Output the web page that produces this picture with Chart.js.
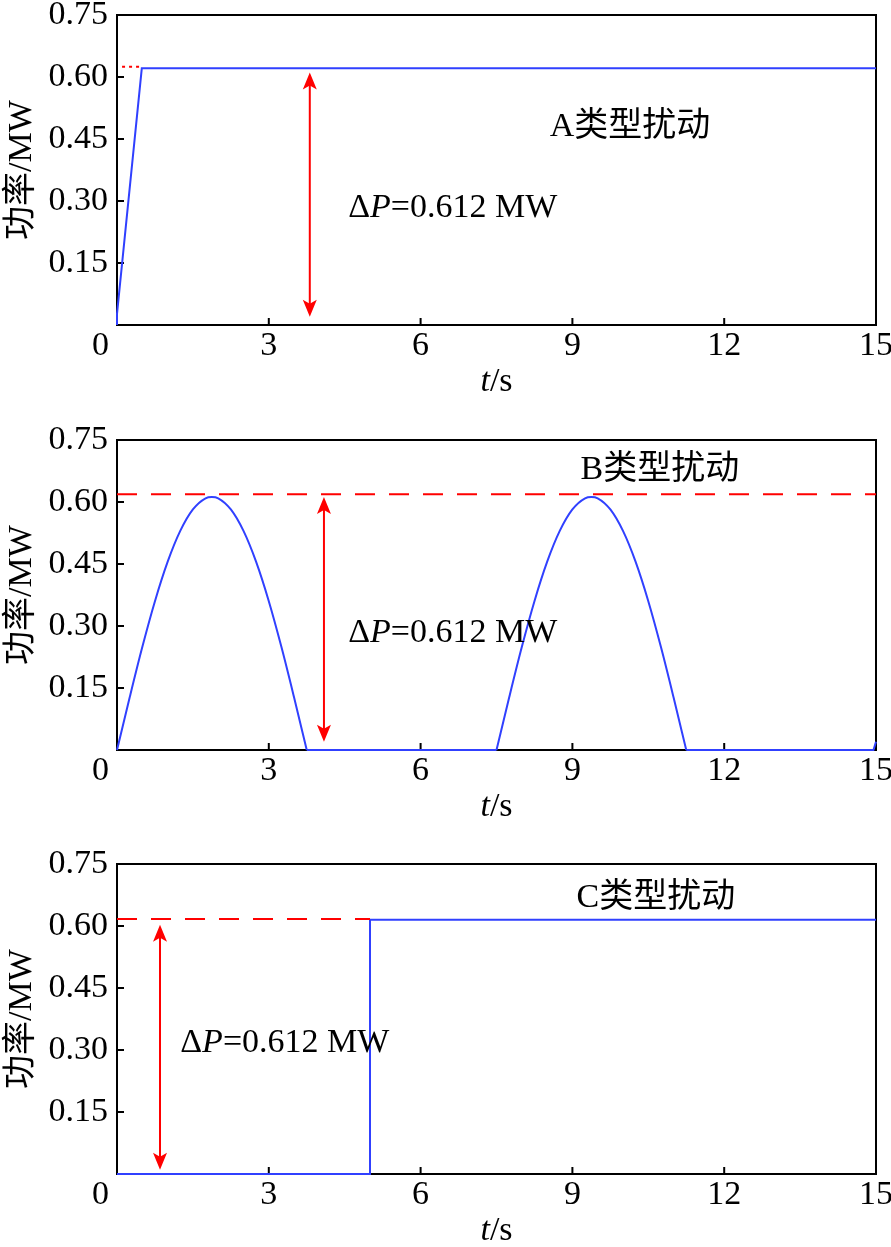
<!DOCTYPE html>
<html>
<head>
<meta charset="utf-8">
<script src="https://cdn.jsdelivr.net/npm/chart.js@4.4.1/dist/chart.umd.min.js"></script>
<style>
  body { margin: 0; background: #fff; }
  .panel { position: absolute; left: 0; width: 891px; height: 398px; }
</style>
</head>
<body>
<div class="panel" style="top:0"><canvas id="chartA" width="891" height="398"></canvas></div>
<div class="panel" style="top:425px"><canvas id="chartB" width="891" height="398"></canvas></div>
<div class="panel" style="top:849px"><canvas id="chartC" width="891" height="398"></canvas></div>
<script>
// 坐标轴刻度
const xTicks = [0, 3, 6, 9, 12, 15];
const yTicks = [0, 0.15, 0.30, 0.45, 0.60, 0.75];

// A类型扰动：斜坡上升后保持
const timeA = [0, 0, 0.49, 15];
const powerA = [0, 0.027, 0.621, 0.621];
const refTimeA = [0.1, 0.49];
const refPowerA = [0.625, 0.625];

// B类型扰动：两个半波 + 零功率段
const humpTime1 = [0, 0.25, 0.5, 0.75, 1, 1.25, 1.5, 1.75, 1.875, 2, 2.25, 2.5, 2.75, 3, 3.25, 3.5, 3.75];
const humpTime2 = [7.5, 7.75, 8, 8.25, 8.5, 8.75, 9, 9.25, 9.375, 9.5, 9.75, 10, 10.25, 10.5, 10.75, 11, 11.25];
const humpPower = [0, 0.127, 0.249, 0.360, 0.455, 0.530, 0.582, 0.609, 0.612, 0.609, 0.582, 0.530, 0.455, 0.360, 0.249, 0.127, 0];
const zeroTimeB = [3.75, 7.5, null, 11.25, 14.95, 15];
const zeroPowerB = [0, 0, null, 0, 0, 0.02];
const refTimeB = [0, 15];
const refPowerB = [0.619, 0.619];

// C类型扰动：阶跃
const timeC = [0, 5, 5, 15];
const powerC = [0, 0, 0.615, 0.615];
const refTimeC = [0, 5];
const refPowerC = [0.617, 0.617];

// 双向箭头 (时间, 下端, 上端)
const arrowTime = [3.81, 4.09, 0.85];
const arrowLow = [0.02, 0.02, 0.01];
const arrowHigh = [0.611, 0.612, 0.603];

const typeLabels = ['A类型扰动', 'B类型扰动', 'C类型扰动'];
const deltaValue = '0.612';

const FAMILY = '"Liberation Serif", "Times New Roman", "Noto Sans CJK SC", serif';
const SIZE = 34;
const BLUE = '#3040ff';
const RED = '#ff0000';

function pts(xs, ys) {
  return xs.map((t, i) => ({ x: t, y: ys[i] }));
}

function drawRuns(ctx, parts, x, y, align) {
  const fontOf = it => (it ? 'italic ' : '') + SIZE + 'px ' + FAMILY;
  let total = 0;
  parts.forEach(([s, it]) => { ctx.font = fontOf(it); total += ctx.measureText(s).width; });
  if (align === 'center') x -= total / 2;
  ctx.textAlign = 'left';
  ctx.textBaseline = 'middle';
  parts.forEach(([s, it]) => {
    ctx.font = fontOf(it);
    ctx.fillText(s, x, y);
    x += ctx.measureText(s).width;
  });
}

const framePlugin = {
  id: 'frame',
  beforeDatasetsDraw(chart) {
    const { ctx, chartArea: a, scales: { x, y } } = chart;
    ctx.save();
    ctx.strokeStyle = '#000';
    ctx.lineWidth = 2;
    ctx.strokeRect(a.left, a.top, a.right - a.left, a.bottom - a.top);
    ctx.beginPath();
    xTicks.slice(1, -1).forEach(v => {
      const px = x.getPixelForValue(v);
      ctx.moveTo(px, a.bottom);
      ctx.lineTo(px, a.bottom - 7);
    });
    yTicks.slice(1, -1).forEach(v => {
      const py = y.getPixelForValue(v);
      ctx.moveTo(a.left, py);
      ctx.lineTo(a.left + 7, py);
    });
    ctx.stroke();
    ctx.fillStyle = '#000';
    // 原点处的 0 与 t/s
    drawRuns(ctx, [['0', false]], a.left - 25, a.bottom + 21, 'left');
    drawRuns(ctx, [['t', true], ['/s', false]], (a.left + a.right) / 2, a.bottom + 57, 'center');
    ctx.restore();
  }
};

const notePlugin = {
  id: 'notes',
  afterDatasetsDraw(chart) {
    const { ctx, scales: { x, y } } = chart;
    const o = chart.options.plugins.notes;
    const i = o.index;
    ctx.save();
    // 双向箭头
    const ax = x.getPixelForValue(arrowTime[i]);
    const yTop = y.getPixelForValue(arrowHigh[i]);
    const yBot = y.getPixelForValue(arrowLow[i]);
    ctx.strokeStyle = RED;
    ctx.fillStyle = RED;
    ctx.lineWidth = 2;
    ctx.beginPath();
    ctx.moveTo(ax, yTop + 12);
    ctx.lineTo(ax, yBot - 12);
    ctx.stroke();
    [[yTop, 1], [yBot, -1]].forEach(([tip, dir]) => {
      ctx.beginPath();
      ctx.moveTo(ax, tip);
      ctx.lineTo(ax - 7, tip + dir * 17);
      ctx.lineTo(ax, tip + dir * 13);
      ctx.lineTo(ax + 7, tip + dir * 17);
      ctx.closePath();
      ctx.fill();
    });
    // 文字
    ctx.fillStyle = '#000';
    drawRuns(ctx, [[typeLabels[i], false]], x.getPixelForValue(o.label[0]), y.getPixelForValue(o.label[1]), 'center');
    drawRuns(ctx, [['Δ', false], ['P', true], ['=' + deltaValue + ' MW', false]],
      x.getPixelForValue(o.delta[0]), y.getPixelForValue(o.delta[1]), 'left');
    ctx.restore();
  }
};

function blueLine(xs, ys, smooth) {
  return {
    data: pts(xs, ys),
    borderColor: BLUE,
    borderWidth: 2,
    clip: false,
    spanGaps: false,
    cubicInterpolationMode: smooth ? 'monotone' : 'default'
  };
}

function redLine(xs, ys, dash) {
  return { data: pts(xs, ys), borderColor: RED, borderWidth: 2, borderDash: dash };
}

function makeChart(id, index, datasets, label, delta) {
  return new Chart(document.getElementById(id), {
    type: 'line',
    data: { datasets },
    options: {
      responsive: false,
      animation: false,
      devicePixelRatio: 1,
      layout: { padding: { top: 15, right: 15, left: 0, bottom: 0 } },
      elements: { point: { radius: 0 }, line: { tension: 0 } },
      plugins: {
        legend: { display: false },
        tooltip: { enabled: false },
        notes: { index, label, delta }
      },
      scales: {
        x: {
          type: 'linear',
          min: 0,
          max: 15,
          afterBuildTicks: s => { s.ticks = xTicks.map(v => ({ value: v })); },
          afterFit: s => { s.height = 73; s.paddingLeft = 0; s.paddingRight = 0; },
          grid: { display: false, drawTicks: false },
          border: { display: false },
          ticks: {
            color: '#000',
            padding: 1,
            maxRotation: 0,
            font: { family: FAMILY, size: SIZE, lineHeight: 1.2 },
            callback: v => (v === 0 ? '' : String(v))
          }
        },
        y: {
          type: 'linear',
          min: 0,
          max: 0.75,
          afterBuildTicks: s => { s.ticks = yTicks.map(v => ({ value: v })); },
          afterFit: s => { s.width = 117; s.paddingTop = 0; s.paddingBottom = 0; },
          grid: { display: false, drawTicks: false },
          border: { display: false },
          title: {
            display: true,
            text: '功率/MW',
            color: '#000',
            font: { family: FAMILY, size: SIZE, lineHeight: 1.2 },
            padding: { top: 2, bottom: 0 }
          },
          ticks: {
            color: '#000',
            padding: 9,
            font: { family: FAMILY, size: SIZE },
            callback: v => (v === 0 ? '' : v.toFixed(2))
          }
        }
      }
    },
    plugins: [framePlugin, notePlugin]
  });
}

makeChart('chartA', 0, [
  redLine(refTimeA, refPowerA, [3, 4]),
  blueLine(timeA, powerA, false)
], [10.14, 0.478], [4.57, 0.284]);

makeChart('chartB', 1, [
  redLine(refTimeB, refPowerB, [20, 14]),
  blueLine(humpTime1, humpPower, true),
  blueLine(humpTime2, humpPower, true),
  blueLine(zeroTimeB, zeroPowerB, false)
], [10.73, 0.678], [4.57, 0.283]);

makeChart('chartC', 2, [
  redLine(refTimeC, refPowerC, [20, 14]),
  blueLine(timeC, powerC, false)
], [10.65, 0.668], [1.25, 0.317]);
</script>
</body>
</html>
